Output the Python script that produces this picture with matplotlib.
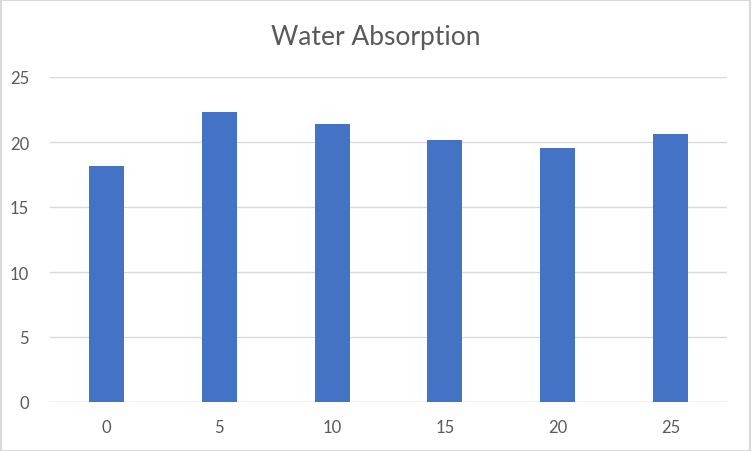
import matplotlib.pyplot as plt
import matplotlib.patches as mpatches

plt.rcParams['font.family'] = ['Lato', 'DejaVu Sans']

categories = ['0', '5', '10', '15', '20', '25']
absorption = [18.13, 22.28, 21.36, 20.13, 19.52, 20.59]
yticks = [0, 5, 10, 15, 20, 25]


def main():
    fig = plt.figure(figsize=(7.52, 4.52), dpi=100)
    ax = fig.add_axes([50 / 752, 49 / 452, 677 / 752, 325 / 452])

    x = range(len(categories))
    ax.bar(x, absorption, width=0.31, color='#4472C4', zorder=3)

    ax.set_xlim(-0.5, len(categories) - 0.5)
    ax.set_ylim(0, 25)
    ax.set_yticks(yticks)
    ax.set_xticks(list(x))
    ax.set_xticklabels(categories)
    ax.grid(axis='y', color='#D9D9D9', linewidth=1, zorder=0)
    for s in ax.spines.values():
        s.set_visible(False)
    ax.axhline(0, color='#D9D9D9', linewidth=1, zorder=2)
    ax.tick_params(length=0, labelsize=12, colors='#595959', pad=12)
    ax.tick_params(axis='y', pad=15)

    fig.text(0.5, 1 - 37 / 452, 'Water Absorption', ha='center', va='center',
             fontsize=19, color='#595959')

    # outer border
    fig.patches.append(mpatches.Rectangle((0.001, 0.001), 0.997, 0.996,
                                          transform=fig.transFigure, fill=False,
                                          edgecolor='#D9D9D9', linewidth=1.5))

    fig.savefig('out.png', dpi=100)


main()
